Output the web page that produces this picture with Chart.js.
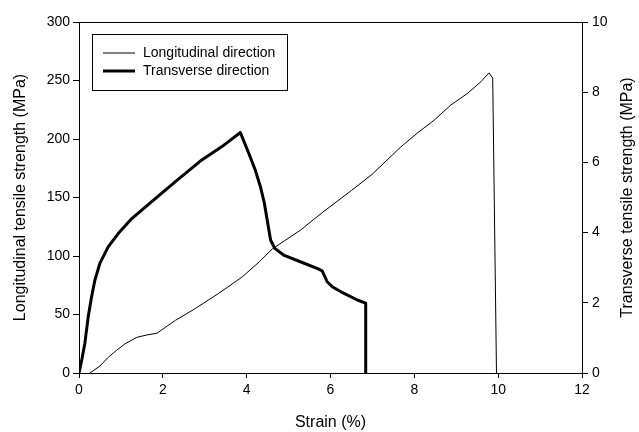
<!DOCTYPE html>
<html>
<head>
<meta charset="utf-8">
<script src="https://cdn.jsdelivr.net/npm/chart.js@4.4.1/dist/chart.umd.min.js"></script>
<style>
html,body{margin:0;padding:0;background:#fff;}
#wrap{width:639px;height:432px;position:relative;}
</style>
</head>
<body>
<div id="wrap"><canvas id="c" width="639" height="432"></canvas></div>
<script>
// Strain (%) and longitudinal tensile strength (MPa, left axis)
const longStrain = [0.26,0.5,0.7,0.9,1.1,1.38,1.62,1.86,2.06,2.3,2.77,3.33,3.89,4.3,4.61,5.28,5.8,6.5,7.0,7.67,8.07,8.47,8.87,9.27,9.59,9.78,9.87,9.96];
const longStress = [0,6,13.5,19.5,25,30.5,32.5,34,39,45,55,68,82,95,106,122,137,156,170,193,205,216,229,239,249,256.5,252,0];
// Strain (%) and transverse tensile strength (MPa, right axis)
const transStrain = [0,0.07,0.14,0.22,0.3,0.38,0.5,0.7,0.94,1.26,1.7,2.3,2.93,3.41,3.85,4.05,4.2,4.33,4.42,4.49,4.57,4.67,4.88,5.28,5.68,5.8,5.86,5.92,6.05,6.24,6.64,6.84,6.84];
const transStress = [0,0.4,0.85,1.6,2.17,2.65,3.13,3.6,3.98,4.4,4.85,5.45,6.07,6.45,6.85,6.26,5.8,5.3,4.85,4.36,3.79,3.55,3.36,3.17,2.98,2.91,2.76,2.6,2.45,2.32,2.08,1.99,0];
const seriesLabels = ["Longitudinal direction","Transverse direction"];
const xTitle = "Strain (%)";
const yLeftTitle = "Longitudinal tensile strength (MPa)";
const yRightTitle = "Transverse tensile strength (MPa)";

const FONT = "'Liberation Sans', Arial, sans-serif";

const framePlugin = {
  id: 'frame',
  afterDatasetsDraw(chart) {
    const {ctx, chartArea: a} = chart;
    ctx.save();
    ctx.strokeStyle = '#000';
    ctx.lineWidth = 1;
    ctx.beginPath();
    ctx.moveTo(a.left, a.top + 0.5);
    ctx.lineTo(a.right, a.top + 0.5);
    ctx.stroke();
    ctx.restore();
  }
};

const rightTitlePlugin = {
  id: 'rightTitle',
  afterDraw(chart) {
    const {ctx, chartArea: a} = chart;
    ctx.save();
    ctx.translate(628, (a.top + a.bottom) / 2);
    ctx.rotate(-Math.PI / 2);
    ctx.font = "16px " + FONT;
    ctx.fillStyle = '#000';
    ctx.textAlign = 'center';
    ctx.textBaseline = 'middle';
    ctx.fillText(yRightTitle, 0, 0);
    ctx.restore();
  }
};

const legendPlugin = {
  id: 'boxLegend',
  afterDraw(chart) {
    const {ctx, chartArea: a} = chart;
    const x0 = a.left + 13, y0 = a.top + 12, w = 195, h = 56;
    ctx.save();
    ctx.fillStyle = '#fff';
    ctx.fillRect(x0, y0, w, h);
    ctx.strokeStyle = '#000';
    ctx.lineWidth = 1;
    ctx.strokeRect(x0 + 0.5, y0 + 0.5, w, h);
    ctx.font = "14px " + FONT;
    ctx.fillStyle = '#000';
    ctx.textBaseline = 'middle';
    chart.data.datasets.forEach((ds, i) => {
      const y = y0 + 19 + i * 18;
      ctx.lineWidth = ds.borderWidth;
      ctx.beginPath();
      ctx.moveTo(x0 + 11, y);
      ctx.lineTo(x0 + 43, y);
      ctx.stroke();
      ctx.fillText(ds.label, x0 + 51, y);
    });
    ctx.restore();
  }
};

const tickFont = {family: FONT, size: 14};
const titleFont = {family: FONT, size: 16};

new Chart(document.getElementById('c'), {
  type: 'line',
  data: {
    datasets: [
      {
        label: seriesLabels[0],
        data: longStrain.map((x, i) => ({x: x, y: longStress[i]})),
        borderColor: '#000', borderWidth: 1, pointRadius: 0, tension: 0,
        yAxisID: 'y', fill: false
      },
      {
        label: seriesLabels[1],
        data: transStrain.map((x, i) => ({x: x, y: transStress[i]})),
        borderColor: '#000', borderWidth: 3, pointRadius: 0, tension: 0,
        borderJoinStyle: 'round',
        yAxisID: 'y2', fill: false
      }
    ]
  },
  options: {
    responsive: false,
    animation: false,
    events: [],
    layout: {padding: {top: 22, left: 0, right: 0, bottom: 0}},
    plugins: {legend: {display: false}, tooltip: {enabled: false}},
    scales: {
      x: {
        type: 'linear', min: 0, max: 12,
        ticks: {stepSize: 2, color: '#000', font: tickFont, padding: 4, maxRotation: 0},
        grid: {drawOnChartArea: false, drawTicks: true, tickLength: 5, color: '#000'},
        border: {display: true, color: '#000', width: 1},
        title: {display: true, text: xTitle, color: '#000', font: titleFont, padding: {top: 8, bottom: 0}},
        afterFit(s) { s.height = 59; }
      },
      y: {
        type: 'linear', position: 'left', min: 0, max: 300,
        ticks: {stepSize: 50, color: '#000', font: tickFont, padding: 3},
        grid: {drawOnChartArea: false, drawTicks: true, tickLength: 6, color: '#000'},
        border: {display: true, color: '#000', width: 1},
        title: {display: true, text: yLeftTitle, color: '#000', font: titleFont, padding: {top: 11, bottom: 0}},
        afterFit(s) { s.width = 79; }
      },
      y2: {
        type: 'linear', position: 'right', min: 0, max: 10,
        ticks: {stepSize: 2, color: '#000', font: tickFont, padding: 4},
        grid: {drawOnChartArea: false, drawTicks: true, tickLength: 6, color: '#000'},
        border: {display: true, color: '#000', width: 1},
        title: {display: false},
        afterFit(s) { s.width = 57; }
      }
    }
  },
  plugins: [framePlugin, legendPlugin, rightTitlePlugin]
});
</script>
</body>
</html>
